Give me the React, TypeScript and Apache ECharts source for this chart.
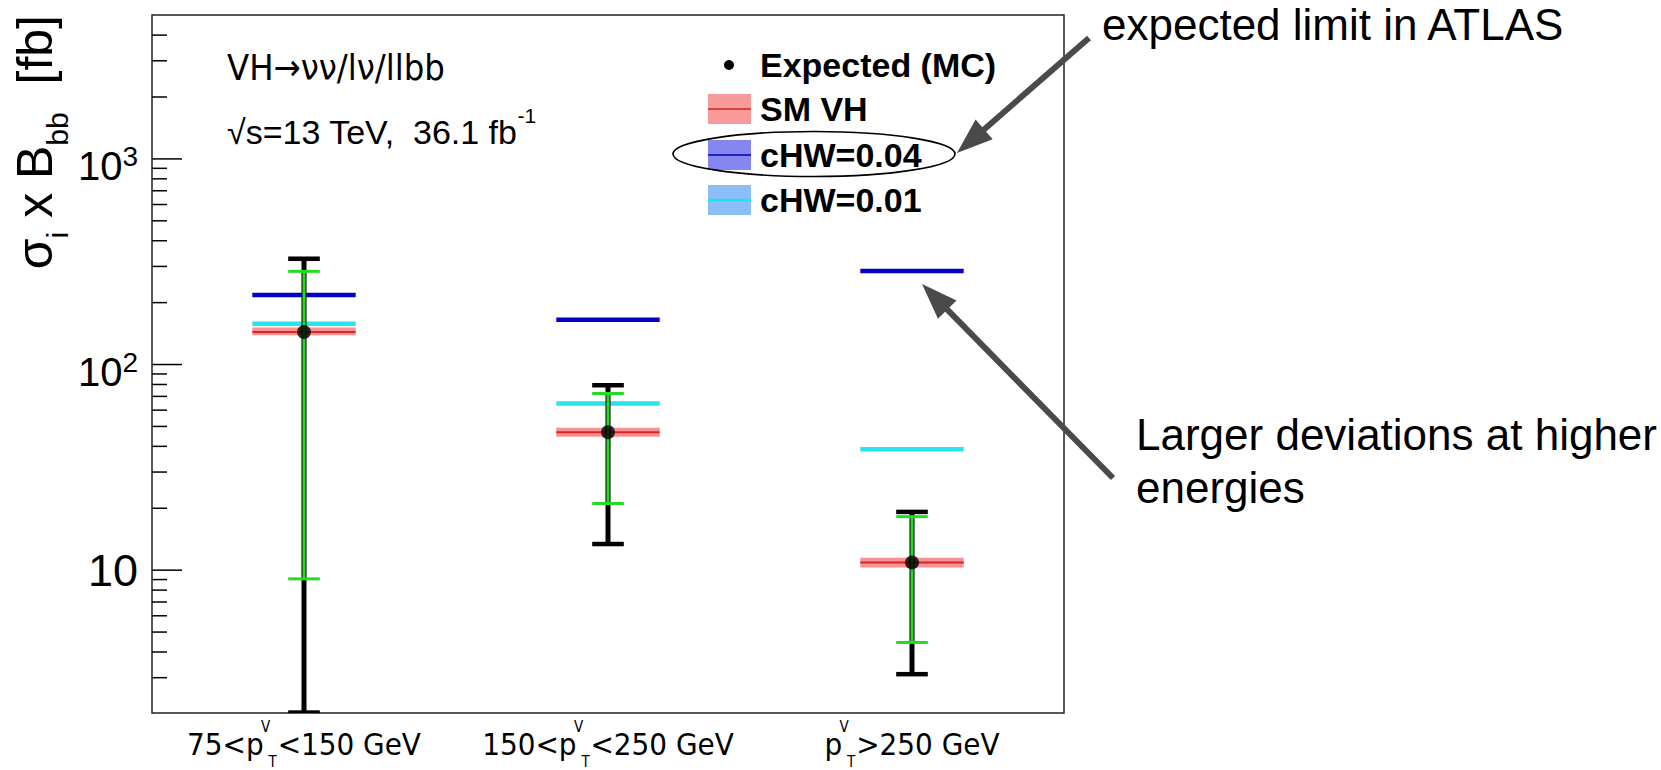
import React, { useEffect, useRef } from 'react';
import * as echarts from 'echarts';

// ---------- data ----------
const labelPrefix = ['75<p', '150<p', 'p'];
const labelSuffix = ['<150 GeV', '<250 GeV', '>250 GeV'];
const categories = ['75<pTV<150 GeV', '150<pTV<250 GeV', 'pTV>250 GeV'];

const expectedMC = [144, 46.9, 10.9];
const smVH = [144, 46.9, 10.9];
const smVHLow = [138.7, 44.6, 10.3];
const smVHHigh = [151.5, 49.3, 11.5];
const cHW004 = [218, 165, 285];
const cHW001 = [158, 64.6, 38.7];
const limitLow = [2.03, 13.4, 3.12];
const limitHigh = [327, 79.3, 19.2];
const innerLow = [9.07, 21.1, 4.45];
const innerHigh = [284, 72.3, 18.2];

const yMin = 2.02;
const yMax = 5010;
const majorTicks = [10, 100, 1000];
const minorTicks = [3, 4, 5, 6, 7, 8, 9, 20, 30, 40, 50, 60, 70, 80, 90, 200, 300, 400, 500, 600, 700, 800, 900, 2000, 3000, 4000];

const FONT = '"Liberation Sans", Arial, Helvetica, sans-serif';
const NARROW = '"Liberation Sans Narrow", "DejaVu Sans Condensed", "Liberation Sans", Arial, sans-serif';

// ---------- helpers ----------
function hLine(color: string, width: number, frac: number) {
  return (params: any, api: any) => {
    const x = api.value(0);
    const c = api.coord([x, api.value(1)]);
    const hw = api.size([1, 0])[0] * frac;
    return {
      type: 'line',
      shape: { x1: c[0] - hw, y1: c[1], x2: c[0] + hw, y2: c[1] },
      style: { stroke: color, lineWidth: width },
    };
  };
}

function errBar(color: string, lw: number, capLw: number, capFrac: number) {
  return (params: any, api: any) => {
    const x = api.value(0);
    const lo = api.coord([x, api.value(1)]);
    const hi = api.coord([x, api.value(2)]);
    const cw = api.size([1, 0])[0] * capFrac;
    return {
      type: 'group',
      children: [
        { type: 'line', shape: { x1: lo[0], y1: lo[1], x2: hi[0], y2: hi[1] }, style: { stroke: color, lineWidth: lw } },
        { type: 'line', shape: { x1: lo[0] - cw, y1: lo[1], x2: lo[0] + cw, y2: lo[1] }, style: { stroke: color, lineWidth: capLw } },
        { type: 'line', shape: { x1: hi[0] - cw, y1: hi[1], x2: hi[0] + cw, y2: hi[1] }, style: { stroke: color, lineWidth: capLw } },
      ],
    };
  };
}

function arrow(x1: number, y1: number, x2: number, y2: number, color: string) {
  const dx = x2 - x1;
  const dy = y2 - y1;
  const len = Math.sqrt(dx * dx + dy * dy);
  const ux = dx / len;
  const uy = dy / len;
  const headLen = 36;
  const headHalf = 13;
  const bx = x2 - ux * headLen;
  const by = y2 - uy * headLen;
  const px = -uy;
  const py = ux;
  return [
    { type: 'line', silent: true, shape: { x1, y1, x2: bx + ux * 2, y2: by + uy * 2 }, style: { stroke: color, lineWidth: 6 } },
    {
      type: 'polygon',
      silent: true,
      shape: { points: [[x2, y2], [bx + px * headHalf, by + py * headHalf], [bx - px * headHalf, by - py * headHalf]] },
      style: { fill: color },
    },
  ];
}

function txt(x: number, y: number, text: string, fontSize: number, extra: any = {}) {
  return {
    type: 'text',
    x,
    y,
    silent: true,
    style: {
      text,
      fontSize,
      fontFamily: FONT,
      fill: '#000',
      align: 'left',
      verticalAlign: 'middle',
      textAlign: 'left',
      textVerticalAlign: 'middle',
      ...extra,
    },
  };
}

export default function App() {
  const ref = useRef<HTMLDivElement>(null);

  useEffect(() => {
    if (!ref.current) return;
    const chart = echarts.init(ref.current, null, { renderer: 'svg' });

    const legendRows = [
      { y: 109, label: 'SM VH', box: '#F89A9A', line: '#D42020', lw: 1.5 },
      { y: 155, label: 'cHW=0.04', box: '#8686F0', line: '#0000B4', lw: 1.5 },
      { y: 200, label: 'cHW=0.01', box: '#8CBEF5', line: '#1EE0F0', lw: 2.5 },
    ];

    const legendGraphics: any[] = [];
    legendGraphics.push({ type: 'circle', silent: true, shape: { cx: 729, cy: 65, r: 5 }, style: { fill: '#000' } });
    legendGraphics.push(txt(760, 65, 'Expected (MC)', 34, { fontWeight: 'bold' }));
    legendRows.forEach((r) => {
      legendGraphics.push({ type: 'rect', silent: true, shape: { x: 708, y: r.y - 15, width: 43, height: 30 }, style: { fill: r.box } });
      legendGraphics.push({ type: 'line', silent: true, shape: { x1: 708, y1: r.y, x2: 751, y2: r.y }, style: { stroke: r.line, lineWidth: r.lw } });
      legendGraphics.push(txt(760, r.y, r.label, 34, { fontWeight: 'bold' }));
    });

    const tickData = [
      ...majorTicks.map((v) => [0, v, 30]),
      ...minorTicks.map((v) => [0, v, 15]),
    ];

    const option: any = {
      animation: false,
      backgroundColor: '#fff',
      grid: {
        left: 152,
        top: 15,
        width: 912,
        height: 698,
        show: true,
        borderColor: '#222',
        borderWidth: 1.5,
        backgroundColor: 'transparent',
        containLabel: false,
        outerBoundsMode: 'none',
      },
      xAxis: {
        type: 'category',
        data: categories,
        boundaryGap: true,
        axisLine: { show: false },
        axisTick: { show: false },
        splitLine: { show: false },
        axisLabel: {
          margin: 1,
          interval: 0,
          formatter: (_v: string, i: number) => `{m|${labelPrefix[i]}}{v|V}{t|T}{m|${labelSuffix[i]}}`,
          rich: {
            m: { fontSize: 31, lineHeight: 60, fontFamily: NARROW, color: '#000' },
            v: { fontSize: 15, lineHeight: 20, height: 26, verticalAlign: 'top', width: 0.01, padding: [0, 0, 0, 2], align: 'left', fontFamily: NARROW, color: '#000' },
            t: { fontSize: 15, lineHeight: 20, height: 96, verticalAlign: 'top', width: 10, padding: [0, 0, 0, 2], align: 'left', fontFamily: NARROW, color: '#000' },
          },
        },
      },
      yAxis: {
        type: 'log',
        logBase: 10,
        min: yMin,
        max: yMax,
        axisLine: { show: false },
        splitLine: { show: false },
        minorTick: { show: false },
        axisTick: { show: false },
        axisLabel: {
          margin: 14,
          customValues: majorTicks,
          formatter: (v: number) => {
            const e = Math.round(Math.log10(v));
            return e === 1 ? '{c|10}' : `{b|10}{s|${e}}`;
          },
          rich: {
            c: { fontSize: 45, lineHeight: 60, fontFamily: FONT, color: '#000' },
            b: { fontSize: 40, lineHeight: 60, height: 74, verticalAlign: 'top', fontFamily: FONT, color: '#000' },
            s: { fontSize: 28, lineHeight: 20, height: 56, verticalAlign: 'top', fontFamily: FONT, color: '#000' },
          },
        },
      },
      series: [
        {
          name: 'axis ticks',
          type: 'custom',
          silent: true,
          clip: true,
          renderItem: (params: any, api: any) => {
            const p = api.coord([0, api.value(1)]);
            const x0 = params.coordSys.x;
            const len = api.value(2);
            return { type: 'line', shape: { x1: x0, y1: p[1], x2: x0 + len, y2: p[1] }, style: { stroke: '#000', lineWidth: 1.5 } };
          },
          encode: { x: 0, y: 1 },
          data: tickData,
        },
        {
          name: 'SM VH',
          type: 'custom',
          clip: true,
          renderItem: (params: any, api: any) => {
            const x = api.value(0);
            const c = api.coord([x, api.value(1)]);
            const lo = api.coord([x, api.value(2)]);
            const hi = api.coord([x, api.value(3)]);
            const hw = api.size([1, 0])[0] * 0.17;
            return {
              type: 'group',
              children: [
                { type: 'rect', shape: { x: c[0] - hw, y: hi[1], width: 2 * hw, height: lo[1] - hi[1] }, style: { fill: '#F79292' } },
                { type: 'line', shape: { x1: c[0] - hw, y1: c[1], x2: c[0] + hw, y2: c[1] }, style: { stroke: '#DC2424', lineWidth: 2 } },
              ],
            };
          },
          encode: { x: 0, y: 1 },
          data: smVH.map((v, i) => [i, v, smVHLow[i], smVHHigh[i]]),
        },
        {
          name: 'cHW=0.01',
          type: 'custom',
          clip: true,
          renderItem: hLine('#28E4EC', 4.5, 0.17),
          encode: { x: 0, y: 1 },
          data: cHW001.map((v, i) => [i, v]),
        },
        {
          name: 'cHW=0.04',
          type: 'custom',
          clip: true,
          renderItem: hLine('#0000C4', 4.5, 0.17),
          encode: { x: 0, y: 1 },
          data: cHW004.map((v, i) => [i, v]),
        },
        {
          name: 'Expected limit',
          type: 'custom',
          clip: true,
          renderItem: errBar('#000', 5, 4.5, 0.052),
          encode: { x: 0, y: [1, 2] },
          data: limitLow.map((v, i) => [i, v, limitHigh[i]]),
        },
        {
          name: 'Expected limit (inner)',
          type: 'custom',
          clip: true,
          renderItem: errBar('#22DD22', 3, 3, 0.052),
          encode: { x: 0, y: [1, 2] },
          data: innerLow.map((v, i) => [i, v, innerHigh[i]]),
        },
        {
          name: 'Expected (MC)',
          type: 'scatter',
          symbol: 'circle',
          symbolSize: 14,
          itemStyle: { color: '#000' },
          data: expectedMC.map((v, i) => [i, v]),
          z: 5,
        },
      ],
      graphic: [
        // y-axis title
        {
          type: 'text',
          x: 9,
          y: 15,
          rotation: Math.PI / 2,
          silent: true,
          style: {
            text: '{m|σ}{s|i}{m| x B}{s|bb}{m|  [fb]}',
            align: 'right',
            verticalAlign: 'top',
            textAlign: 'right',
            textVerticalAlign: 'top',
            rich: {
              m: { fontSize: 50, lineHeight: 100, height: 52, verticalAlign: 'top', fontFamily: FONT, fill: '#000', color: '#000' },
              s: { fontSize: 30, lineHeight: 20, height: 96, verticalAlign: 'top', fontFamily: FONT, fill: '#000', color: '#000' },
            },
          },
        },
        // top-left texts
        txt(227, 67, 'VH→νν/lν/llbb', 36, { fontFamily: NARROW }),
        txt(227, 127, '{m|√s=13 TeV,  36.1 fb}{s|-1}', 34, {
          rich: {
            m: { fontSize: 34, lineHeight: 44, verticalAlign: 'bottom', fontFamily: FONT, fill: '#000', color: '#000' },
            s: { fontSize: 21, lineHeight: 30, verticalAlign: 'top', fontFamily: FONT, fill: '#000', color: '#000' },
          },
        }),
        ...legendGraphics,
        // ellipse around cHW=0.04
        { type: 'ellipse', silent: true, shape: { cx: 814, cy: 154, rx: 141, ry: 22.5 }, style: { fill: 'none', stroke: '#000', lineWidth: 1.6 } },
        // annotations
        ...arrow(1089, 38, 957, 153, '#4A4A4A'),
        ...arrow(1113, 478, 922, 284, '#4A4A4A'),
        txt(1102, 24, 'expected limit in ATLAS', 44),
        txt(1136, 434, 'Larger deviations at higher', 44),
        txt(1136, 487, 'energies', 44),
      ],
    };

    chart.setOption(option);
    return () => chart.dispose();
  }, []);

  return (
    <div
      ref={ref}
      style={{ position: 'fixed', left: 0, top: 0, width: 1661, height: 770, background: '#fff' }}
    />
  );
}
